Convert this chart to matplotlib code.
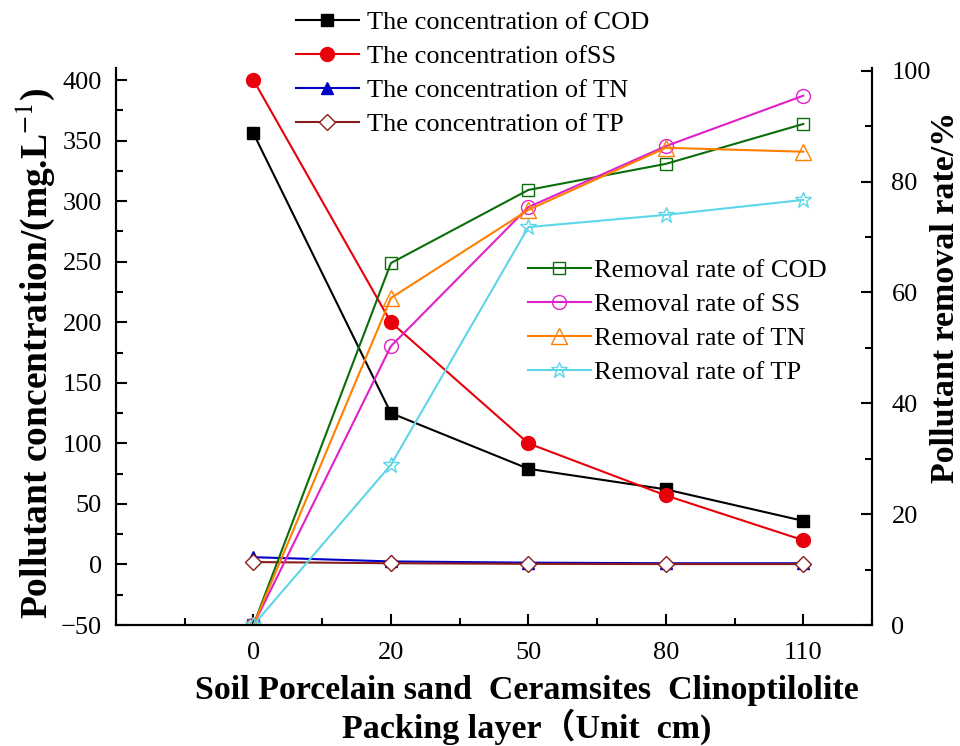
import matplotlib
matplotlib.use("Agg")
import matplotlib.pyplot as plt
from matplotlib.ticker import MultipleLocator

plt.rcParams['font.family'] = ['Liberation Serif', 'Noto Sans CJK SC']
plt.rcParams['mathtext.fontset'] = 'stix'

# Packing depth (cm) for each layer
depths = ["0", "20", "50", "80", "110"]

# Pollutant concentration (mg/L)
cod_conc = [356, 125, 79, 62, 36]
ss_conc = [400, 200, 100, 57, 20]
tn_conc = [6, 2.5, 1.5, 1, 1]
tp_conc = [2, 1, 0.5, 0.3, 0.3]

# Removal rate (%)
cod_rate = [0, 65.3, 78.5, 83.2, 90.4]
ss_rate = [0, 50.3, 75.4, 86.4, 95.5]
tn_rate = [0, 59, 74.9, 86.1, 85.4]
tp_rate = [0, 28.9, 71.8, 74, 76.7]

x = list(range(len(depths)))

fig = plt.figure(figsize=(9.6, 7.46), dpi=100)
ax = fig.add_axes([116 / 960, 121 / 746, 756 / 960, 557 / 746])
ax2 = ax.twinx()

lw = 1.5
h1, = ax.plot(x, cod_conc, color='black', marker='s', ms=9, lw=lw, label='The concentration of COD')
h2, = ax.plot(x, ss_conc, color='#e8000b', marker='o', ms=10, lw=lw, label='The concentration ofSS')
h3, = ax.plot(x, tn_conc, color='#0000c8', marker='^', ms=9, lw=lw, label='The concentration of TN')
h4, = ax.plot(x, tp_conc, color='#8b1c1c', marker='D', ms=8, mfc='white', lw=lw, label='The concentration of TP')

r1, = ax2.plot(x, cod_rate, color='#0a6e0a', marker='s', ms=9, mfc='none', lw=lw, label='Removal rate of COD')
r2, = ax2.plot(x, ss_rate, color='#e020c8', marker='o', ms=10, mfc='none', lw=lw, label='Removal rate of SS')
r3, = ax2.plot(x, tn_rate, color='#ff7f00', marker='^', ms=11, mfc='none', lw=lw, label='Removal rate of TN')
r4, = ax2.plot(x, tp_rate, color='#5cd6e8', marker='*', ms=12, mfc='none', mew=1.0, lw=lw, label='Removal rate of TP')

ax.set_xlim(-1, 4.5)
ax.set_ylim(-50, 410)
ax2.set_ylim(0, 100.5)

ax.set_xticks(x)
ax.set_xticklabels(depths)
ax.xaxis.set_minor_locator(MultipleLocator(0.5))
ax.yaxis.set_major_locator(MultipleLocator(50))
ax.yaxis.set_minor_locator(MultipleLocator(25))
ax2.yaxis.set_major_locator(MultipleLocator(20))
ax2.yaxis.set_minor_locator(MultipleLocator(10))

for a in (ax, ax2):
    a.spines['top'].set_visible(False)
    for s in a.spines.values():
        s.set_linewidth(1.5)
    a.tick_params(which='major', direction='in', length=8, width=1.5, labelsize=19)
    a.tick_params(which='minor', direction='in', length=5, width=1.5)
ax.tick_params(axis='y', pad=10)
ax.tick_params(axis='x', pad=12)
ax2.tick_params(axis='y', pad=14)

# axis titles placed in figure pixels
fig.text(35 / 960, 1 - 353 / 746, 'Pollutant concentration/(mg.L$^{-1}$)', rotation=90,
         ha='center', va='center', fontsize=27, fontweight='bold')
fig.text(945 / 960, 1 - 297 / 746, 'Pollutant removal rate/%', rotation=90,
         ha='center', va='center', fontsize=24.5, fontweight='bold')

fig.text(527 / 960, 1 - 690 / 746, 'Soil Porcelain sand  Ceramsites  Clinoptilolite',
         ha='center', va='center', fontsize=24.5, fontweight='bold')
fig.text(527 / 960, 1 - 727 / 746, 'Packing layer（Unit  cm)',
         ha='center', va='center', fontsize=24.5, fontweight='bold')

fig.legend(handles=[h1, h2, h3, h4], loc='upper left', bbox_to_anchor=(285 / 960, 1 - 0 / 746),
           frameon=False, fontsize=19, numpoints=1, handlelength=2.4, handletextpad=0.3,
           labelspacing=0.4, borderaxespad=0)
fig.legend(handles=[r1, r2, r3, r4], loc='upper left', bbox_to_anchor=(517 / 960, 1 - 248 / 746),
           frameon=False, fontsize=19, numpoints=1, handlelength=2.4, handletextpad=0.1,
           labelspacing=0.4, borderaxespad=0)

fig.savefig('out.png', dpi=100)
